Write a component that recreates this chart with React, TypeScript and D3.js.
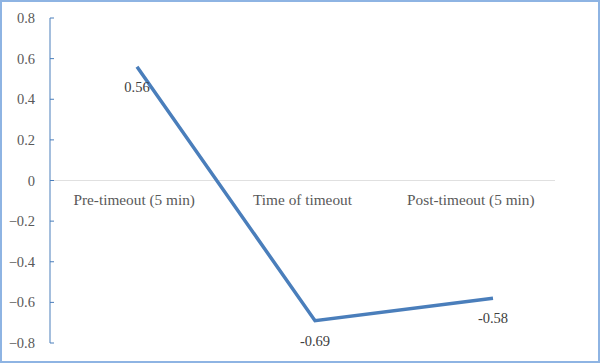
import React from "react";
import * as d3 from "d3";

const categories = ["Pre-timeout (5 min)", "Time of timeout", "Post-timeout (5 min)"];
const values = [0.56, -0.69, -0.58];
const labels = ["0.56", "-0.69", "-0.58"];
const yTicks = [0.8, 0.6, 0.4, 0.2, 0, -0.2, -0.4, -0.6, -0.8];

const W = 600;
const H = 363;

export default function App() {
  const y = d3.scaleLinear().domain([-0.8, 0.8]).range([343, 18]);
  const xBand = d3.scaleBand().domain(categories).range([50, 555]);
  const xLine = d3.scalePoint().domain(categories).range([137, 493]);
  const line = d3
    .line<number>()
    .x((_, i) => xLine(categories[i]) as number)
    .y((d) => y(d));
  const font = "'Liberation Serif', serif";
  const fmt = (v: number) => (v === 0 ? "0" : d3.format(".1f")(v));
  return (
    <svg
      width={W}
      height={H}
      style={{ position: "absolute", left: 0, top: 0, background: "#fff" }}
    >
      <rect x={1} y={1} width={W - 2} height={H - 2} fill="#fff" stroke="#8eb4e3" strokeWidth={2} />
      <line x1={50} x2={555} y1={y(0)} y2={y(0)} stroke="#e0e0e0" strokeWidth={1} />
      <line x1={50} x2={50} y1={y(0.8)} y2={y(-0.8)} stroke="#4a7ebb" strokeWidth={1} />
      {yTicks.map((t) => (
        <g key={t}>
          <line x1={50} x2={54} y1={y(t)} y2={y(t)} stroke="#4a7ebb" strokeWidth={1} />
          <text
            x={35}
            y={y(t)}
            dy="0.35em"
            textAnchor="end"
            fontFamily={font}
            fontSize={14.5}
            fill="#595959"
          >
            {fmt(t)}
          </text>
        </g>
      ))}
      {categories.map((c) => (
        <text
          key={c}
          x={(xBand(c) as number) + xBand.bandwidth() / 2}
          y={y(0) + 24}
          textAnchor="middle"
          fontFamily={font}
          fontSize={15.3}
          fill="#595959"
        >
          {c}
        </text>
      ))}
      <path d={line(values) || ""} fill="none" stroke="#4a7ebb" strokeWidth={3.5} />
      {values.map((v, i) => (
        <text
          key={i}
          x={xLine(categories[i]) as number}
          y={y(v) + 25}
          textAnchor="middle"
          fontFamily={font}
          fontSize={14.5}
          fill="#404040"
        >
          {labels[i]}
        </text>
      ))}
    </svg>
  );
}
